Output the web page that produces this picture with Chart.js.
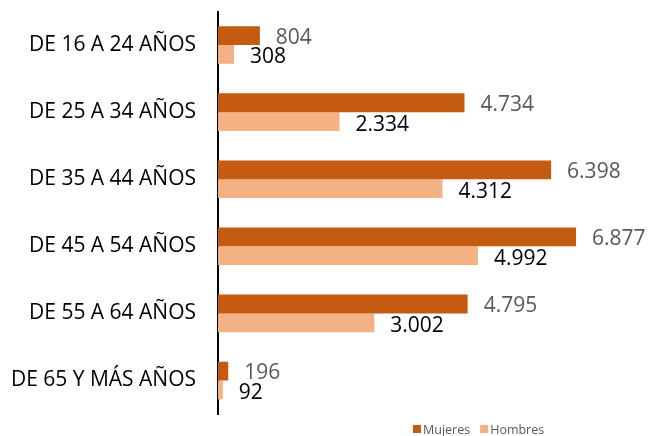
<!DOCTYPE html>
<html>
<head>
<meta charset="utf-8">
<script src="https://cdn.jsdelivr.net/npm/chart.js@4/dist/chart.umd.min.js"></script>
<style>
html,body{margin:0;padding:0;background:#fff;}
#wrap{width:650px;height:436px;position:relative;}
</style>
</head>
<body>
<div id="wrap"><canvas id="c" width="650" height="436"></canvas></div>
<script>
const categories = ["DE 16 A 24 AÑOS","DE 25 A 34 AÑOS","DE 35 A 44 AÑOS","DE 45 A 54 AÑOS","DE 55 A 64 AÑOS","DE 65 Y MÁS AÑOS"];
const mujeres = [804, 4734, 6398, 6877, 4795, 196];
const hombres = [308, 2334, 4312, 4992, 3002, 92];
const seriesNames = ["Mujeres","Hombres"];
const colors = ["#C55A11","#F4B183"];
const labelColors = ["#595959","#000000"];

const FONT = "'Open Sans', sans-serif";
function fmt(v){ return String(v).replace(/\B(?=(\d{3})+(?!\d))/g, "."); }

const labelPlugin = {
  id: 'valueLabels',
  afterDatasetsDraw(chart){
    const ctx = chart.ctx;
    ctx.save();
    ctx.font = "21px " + FONT;
    ctx.textAlign = 'left';
    ctx.textBaseline = 'middle';
    chart.data.datasets.forEach((ds, di) => {
      const meta = chart.getDatasetMeta(di);
      ctx.fillStyle = labelColors[di];
      meta.data.forEach((bar, i) => {
        const dy = di === 0 ? 2 : 3;
        ctx.fillText(fmt(ds.data[i]), bar.x + 16, bar.y + dy);
      });
    });
    ctx.restore();
  }
};

const legendPlugin = {
  id: 'customLegend',
  afterDraw(chart){
    const ctx = chart.ctx;
    ctx.save();
    ctx.font = "12.5px " + FONT;
    ctx.textBaseline = 'middle';
    ctx.textAlign = 'left';
    let x = 413;
    const y = 429;
    seriesNames.forEach((name, i) => {
      ctx.fillStyle = colors[i];
      ctx.fillRect(x, y - 4, 8, 8);
      ctx.fillStyle = '#595959';
      ctx.fillText(name, x + 10, y + 1);
      x += 10 + ctx.measureText(name).width + 10;
    });
    ctx.restore();
  }
};

new Chart(document.getElementById('c'), {
  type: 'bar',
  data: {
    labels: categories,
    datasets: [
      { label: seriesNames[0], data: mujeres, backgroundColor: colors[0], barPercentage: 1, categoryPercentage: 0.56 },
      { label: seriesNames[1], data: hombres, backgroundColor: colors[1], barPercentage: 1, categoryPercentage: 0.56 }
    ]
  },
  options: {
    indexAxis: 'y',
    responsive: false,
    animation: false,
    maintainAspectRatio: false,
    layout: { padding: { left: 0, right: 15.5, top: 11.5, bottom: 22 } },
    plugins: { legend: { display: false }, tooltip: { enabled: false } },
    scales: {
      x: { display: false, min: 0, max: 8000 },
      y: {
        grid: { display: false, drawTicks: true, tickLength: 22 },
        border: { display: true, color: '#000', width: 2 },
        ticks: { color: '#000', padding: 0, font: { family: FONT, size: 21, lineHeight: 1 } },
        afterFit(scale){ scale.width = 218; }
      }
    }
  },
  plugins: [labelPlugin, legendPlugin]
});
</script>
</body>
</html>
